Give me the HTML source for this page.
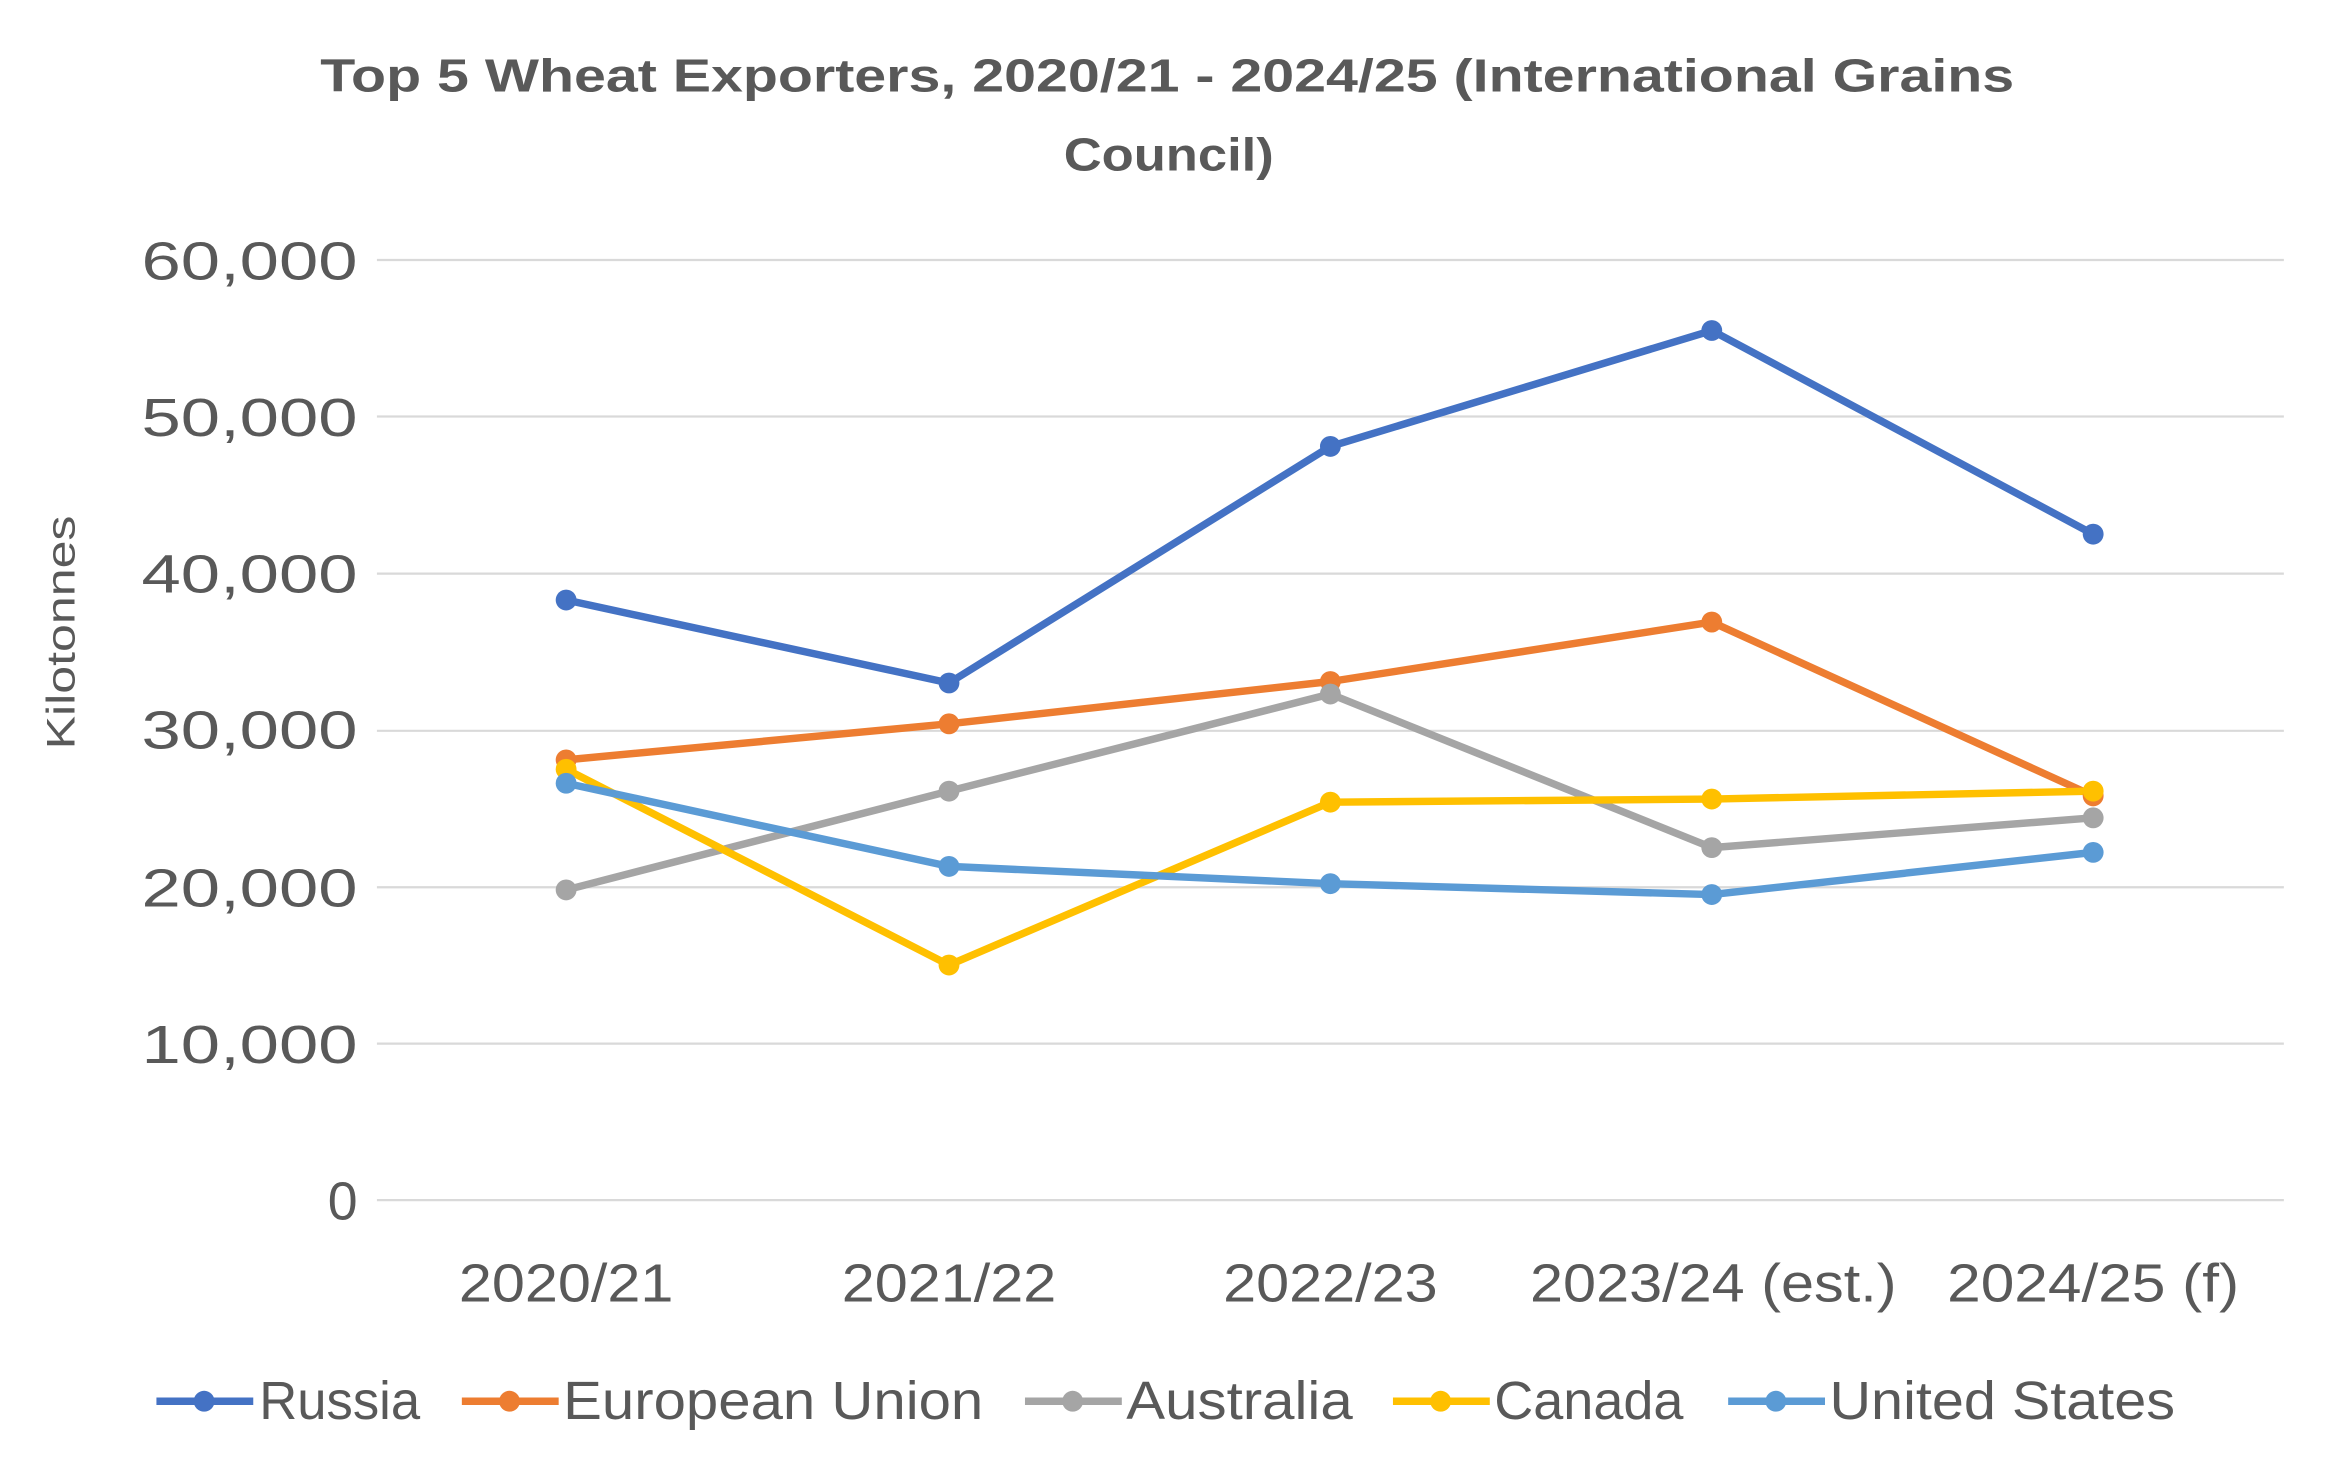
<!DOCTYPE html>
<html><head><meta charset="utf-8"><style>html,body{margin:0;padding:0;background:#fff}svg{display:block}</style></head>
<body>
<svg width="2336" height="1481" viewBox="0 0 1568 993" xmlns="http://www.w3.org/2000/svg" font-family="Liberation Sans, sans-serif" fill="#595959">
<rect width="1568" height="993" fill="#fff"/>
<text x="215" y="61" font-size="31" font-weight="bold" textLength="1137" lengthAdjust="spacingAndGlyphs">Top 5 Wheat Exporters, 2020/21 - 2024/25 (International Grains</text>
<text x="714" y="114" font-size="31" font-weight="bold" textLength="141" lengthAdjust="spacingAndGlyphs">Council)</text>
<g stroke="#d9d9d9" stroke-width="1.5">
<line x1="253" x2="1533" y1="174" y2="174"/><line x1="253" x2="1533" y1="279" y2="279"/><line x1="253" x2="1533" y1="384.5" y2="384.5"/><line x1="253" x2="1533" y1="490" y2="490"/><line x1="253" x2="1533" y1="595" y2="595"/><line x1="253" x2="1533" y1="700" y2="700"/><line x1="253" x2="1533" y1="805" y2="805"/>
</g>
<g font-size="36" text-anchor="end">
<text x="240" y="187" textLength="145" lengthAdjust="spacingAndGlyphs">60,000</text><text x="240" y="292" textLength="145" lengthAdjust="spacingAndGlyphs">50,000</text><text x="240" y="397" textLength="145" lengthAdjust="spacingAndGlyphs">40,000</text><text x="240" y="502" textLength="145" lengthAdjust="spacingAndGlyphs">30,000</text><text x="240" y="608" textLength="145" lengthAdjust="spacingAndGlyphs">20,000</text><text x="240" y="713" textLength="145" lengthAdjust="spacingAndGlyphs">10,000</text><text x="240" y="818">0</text>
</g>
<text transform="translate(50,424) rotate(-90)" text-anchor="middle" font-size="27" textLength="157" lengthAdjust="spacingAndGlyphs">Kilotonnes</text>
<g font-size="36" text-anchor="middle">
<text x="380" y="873" textLength="144" lengthAdjust="spacingAndGlyphs">2020/21</text><text x="637" y="873" textLength="144" lengthAdjust="spacingAndGlyphs">2021/22</text><text x="893" y="873" textLength="144" lengthAdjust="spacingAndGlyphs">2022/23</text><text x="1150" y="873" textLength="246" lengthAdjust="spacingAndGlyphs">2023/24 (est.)</text><text x="1405" y="873" textLength="196" lengthAdjust="spacingAndGlyphs">2024/25 (f)</text>
</g>
<g fill="none" stroke-width="5" stroke-linejoin="round">
<polyline stroke="#4472c4" points="380,402.2 637,457.9 893,299.1 1149,221.3 1405,358"/>
<polyline stroke="#ed7d31" points="380,509.5 637,485.3 893,456.9 1149,417 1405,533.7"/>
<polyline stroke="#a5a5a5" points="380,596.8 637,530.5 893,465.3 1149,568.4 1405,548.4"/>
<polyline stroke="#ffc000" points="380,515.8 637,647.2 893,537.9 1149,535.8 1405,530.5"/>
<polyline stroke="#5b9bd5" points="380,525.2 637,581 893,592.6 1149,599.9 1405,571.6"/>
</g>
<g fill="#4472c4"><circle cx="380" cy="402.2" r="7"/><circle cx="637" cy="457.9" r="7"/><circle cx="893" cy="299.1" r="7"/><circle cx="1149" cy="221.3" r="7"/><circle cx="1405" cy="358" r="7"/></g>
<g fill="#ed7d31"><circle cx="380" cy="509.5" r="7"/><circle cx="637" cy="485.3" r="7"/><circle cx="893" cy="456.9" r="7"/><circle cx="1149" cy="417" r="7"/><circle cx="1405" cy="533.7" r="7"/></g>
<g fill="#a5a5a5"><circle cx="380" cy="596.8" r="7"/><circle cx="637" cy="530.5" r="7"/><circle cx="893" cy="465.3" r="7"/><circle cx="1149" cy="568.4" r="7"/><circle cx="1405" cy="548.4" r="7"/></g>
<g fill="#ffc000"><circle cx="380" cy="515.8" r="7"/><circle cx="637" cy="647.2" r="7"/><circle cx="893" cy="537.9" r="7"/><circle cx="1149" cy="535.8" r="7"/><circle cx="1405" cy="530.5" r="7"/></g>
<g fill="#5b9bd5"><circle cx="380" cy="525.2" r="7"/><circle cx="637" cy="581" r="7"/><circle cx="893" cy="592.6" r="7"/><circle cx="1149" cy="599.9" r="7"/><circle cx="1405" cy="571.6" r="7"/></g>
<g stroke-width="5">
<line x1="105" x2="170" y1="940" y2="940" stroke="#4472c4"/><circle cx="137" cy="940" r="7" fill="#4472c4"/>
<line x1="310" x2="375" y1="940" y2="940" stroke="#ed7d31"/><circle cx="342" cy="940" r="7" fill="#ed7d31"/>
<line x1="688" x2="753" y1="940" y2="940" stroke="#a5a5a5"/><circle cx="720" cy="940" r="7" fill="#a5a5a5"/>
<line x1="935" x2="1000" y1="940" y2="940" stroke="#ffc000"/><circle cx="967" cy="940" r="7" fill="#ffc000"/>
<line x1="1160" x2="1225" y1="940" y2="940" stroke="#5b9bd5"/><circle cx="1192" cy="940" r="7" fill="#5b9bd5"/>
</g>
<g font-size="36">
<text x="174" y="952" textLength="108" lengthAdjust="spacingAndGlyphs">Russia</text><text x="378" y="952" textLength="282" lengthAdjust="spacingAndGlyphs">European Union</text><text x="756" y="952" textLength="152" lengthAdjust="spacingAndGlyphs">Australia</text><text x="1003" y="952" textLength="127" lengthAdjust="spacingAndGlyphs">Canada</text><text x="1228" y="952" textLength="232" lengthAdjust="spacingAndGlyphs">United States</text>
</g>
</svg>
</body></html>
